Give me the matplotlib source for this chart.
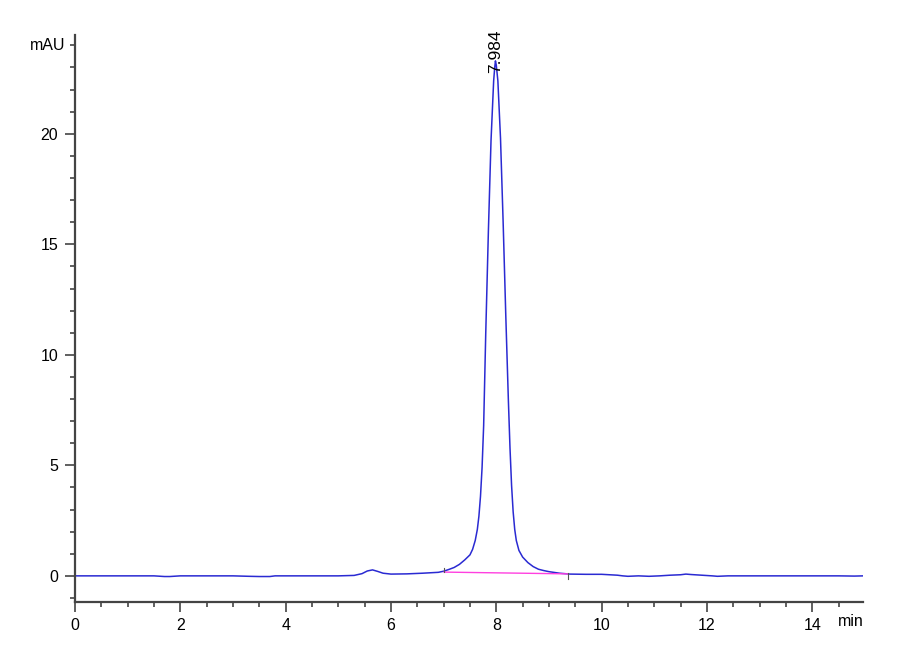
import matplotlib.pyplot as plt
from matplotlib.ticker import MultipleLocator

# chromatogram trace (time in min, signal in mAU)
times = [0.0, 0.5, 1.0, 1.5, 1.7, 1.8, 2.0, 2.5, 3.0, 3.3, 3.5, 3.7, 3.8, 4.0,
         4.5, 5.0, 5.3, 5.45, 5.55, 5.65, 5.75, 5.85, 6.0, 6.3, 6.6, 6.9,
         7.0, 7.1, 7.2, 7.3, 7.4, 7.5, 7.55, 7.6, 7.64, 7.67, 7.7, 7.73, 7.76,
         7.8, 7.85, 7.9, 7.95, 7.97, 7.984, 8.0, 8.03, 8.08, 8.13, 8.18, 8.23,
         8.26, 8.29, 8.32, 8.35, 8.38, 8.43, 8.5, 8.6, 8.7, 8.8, 8.9, 9.0,
         9.2, 9.4, 9.7, 10.0, 10.3, 10.4, 10.5, 10.7, 10.9, 11.1, 11.3, 11.5,
         11.6, 11.7, 11.9, 12.1, 12.2, 12.4, 12.6, 13.0, 13.5, 14.0, 14.5,
         14.8, 14.97]
signal = [0.0, 0.0, 0.0, 0.0, -0.03, -0.03, 0.0, 0.0, 0.0, -0.02, -0.03, -0.03, 0.0, 0.0,
          0.0, 0.0, 0.02, 0.1, 0.22, 0.27, 0.2, 0.12, 0.08, 0.09, 0.12, 0.16,
          0.21, 0.29, 0.38, 0.52, 0.72, 0.95, 1.2, 1.6, 2.1, 2.7, 3.6, 4.9, 6.8,
          11.0, 15.6, 19.7, 22.4, 23.0, 23.3, 23.1, 22.4, 19.8, 16.0, 11.8, 7.9,
          5.8, 4.1, 2.9, 2.1, 1.6, 1.15, 0.85, 0.6, 0.42, 0.3, 0.24, 0.19,
          0.12, 0.08, 0.07, 0.07, 0.03, 0.0, -0.02, 0.0, -0.02, 0.0, 0.03, 0.05,
          0.08, 0.06, 0.03, 0.0, -0.02, 0.0, 0.0, 0.0, 0.0, 0.0, 0.0,
          -0.01, 0.0]

# integration baseline and its start/end markers
base_t = [7.01, 9.37]
base_y = [0.17, 0.09]
peak_rt = 7.984
peak_h = 23.3

fig = plt.figure(figsize=(9, 6.6), dpi=100)
ax = fig.add_axes([0.0833, 0.0883, 0.876, 0.859])
font = ["Liberation Sans Narrow", "Liberation Sans", "DejaVu Sans"]

ax.plot(times, signal, color="#2a2ad2", lw=1.1)
ax.plot(base_t, base_y, color="#ff40e0", lw=1.0)
ax.plot([base_t[0], base_t[0]], [base_y[0], base_y[0] + 0.2], color="#555555", lw=0.8)
ax.plot([base_t[1], base_t[1]], [base_y[1] - 0.22, base_y[1] + 0.05], color="#555555", lw=0.8)

ax.text(peak_rt, peak_h - 0.55, f"{peak_rt:.3f}", rotation=90, ha="center", va="bottom",
        fontsize=12.5, family=font)

ax.set_xlim(0, 14.97)
ax.set_ylim(-1.17, 24.48)
ax.set_xticks([0, 2, 4, 6, 8, 10, 12, 14])
ax.set_yticks([0, 5, 10, 15, 20])
ax.xaxis.set_minor_locator(MultipleLocator(0.5))
ax.yaxis.set_minor_locator(MultipleLocator(1))

for side in ("top", "right"):
    ax.spines[side].set_visible(False)
for side in ("left", "bottom"):
    ax.spines[side].set_color("#444444")
    ax.spines[side].set_linewidth(1.6)

ax.tick_params(which="major", length=7, width=1.2, color="#444444", labelsize=11.5, pad=5)
ax.tick_params(which="minor", length=3.5, width=1.2, color="#444444")
for lab in ax.get_xticklabels() + ax.get_yticklabels():
    lab.set_family(font)

ax.text(-0.012, 24, "mAU", transform=ax.get_yaxis_transform(), ha="right", va="center",
        fontsize=11.5, family=font)
ax.text(1.0, -0.035, "min", transform=ax.transAxes, ha="right", va="center",
        fontsize=11.5, family=font)

fig.savefig("out.png", dpi=100)
